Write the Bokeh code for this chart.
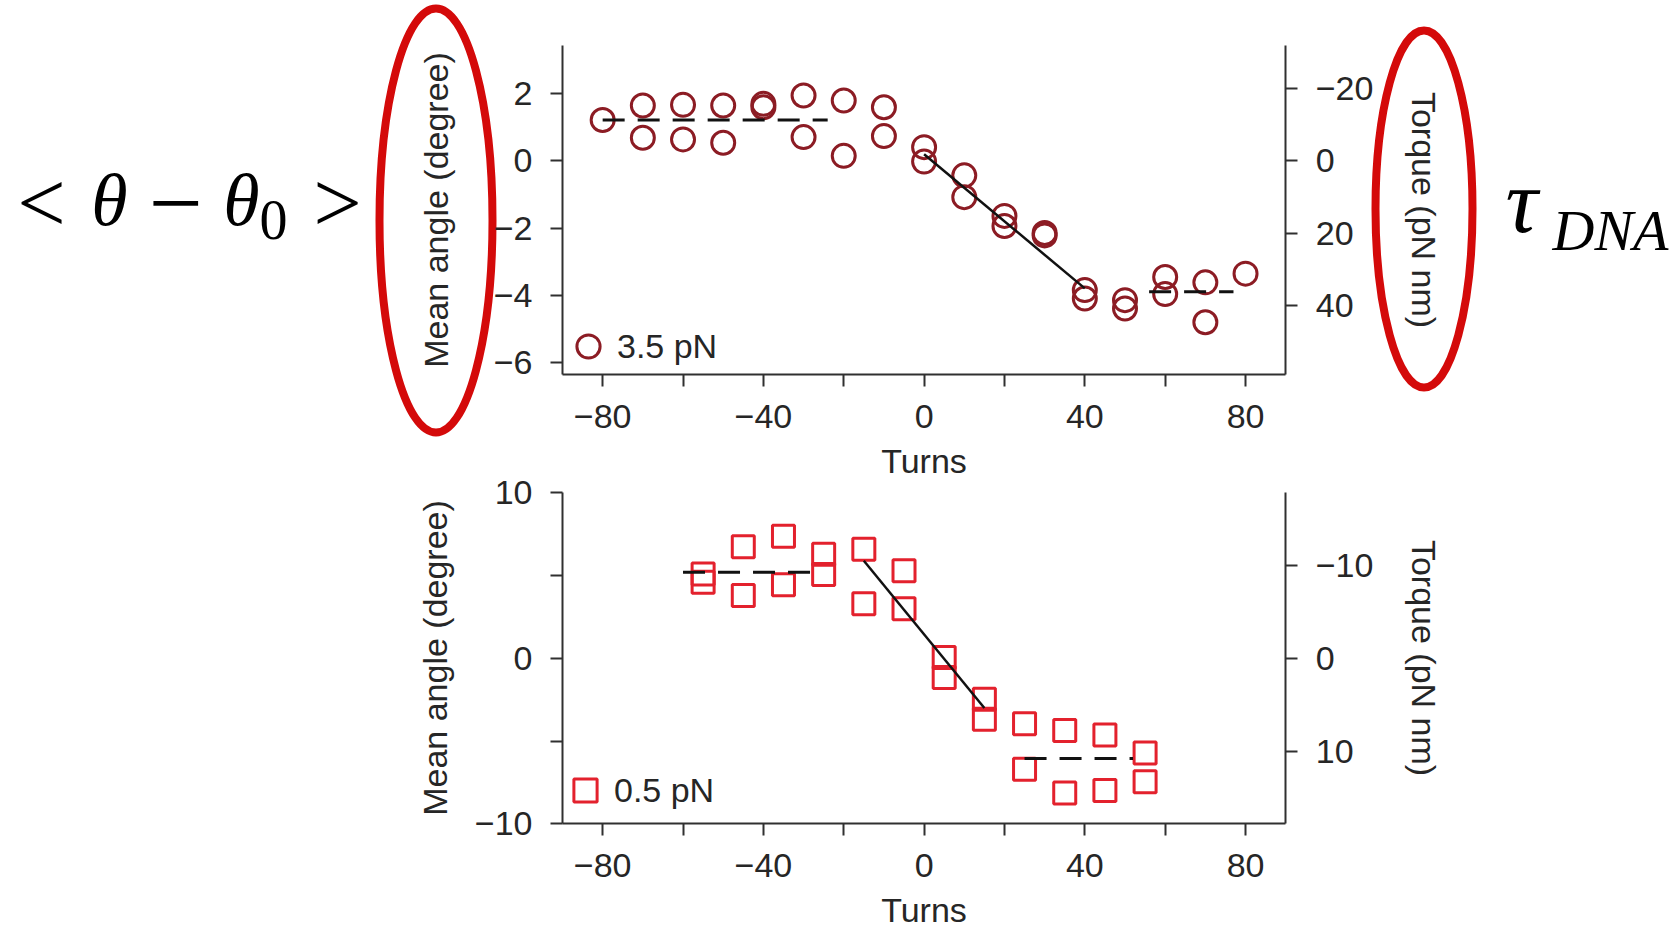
from bokeh.plotting import figure
from bokeh.models import (Range1d, LinearAxis, FixedTicker, Legend, LegendItem)
from bokeh.core.properties import value
from bokeh.embed import file_html
from bokeh.resources import INLINE

# ---------------- data ----------------
# 3.5 pN panel (circles)
top_turns = [-80, -70, -70, -60, -60, -50, -50, -40, -40, -30, -30, -20, -20,
             -10, -10, 0, 0, 10, 10, 20, 20, 30, 30, 40, 40, 50, 50, 60, 60,
             70, 70, 80]
top_angle = [1.22, 1.65, 0.69, 1.67, 0.64, 1.65, 0.54, 1.70, 1.60, 1.95, 0.71,
             1.80, 0.15, 1.60, 0.74, 0.41, -0.02, -0.43, -1.08, -1.64, -1.94,
             -2.15, -2.22, -3.85, -4.10, -4.15, -4.40, -3.46, -3.97, -3.62,
             -4.81, -3.36]
top_flat1_x = [-80, -24]
top_flat1_y = [1.22, 1.22]
top_slope_x = [0, 40]
top_slope_y = [0.2, -3.8]
top_flat2_x = [56, 77]
top_flat2_y = [-3.9, -3.9]

# 0.5 pN panel (squares)
bot_turns = [-55, -55, -45, -45, -35, -35, -25, -25, -15, -15, -5, -5,
             5, 5, 15, 15, 25, 25, 35, 35, 45, 45, 55, 55]
bot_angle = [5.10, 4.60, 6.74, 3.80, 7.38, 4.45, 6.29, 5.07, 6.60, 3.30,
             5.30, 3.00, 0.06, -1.15, -2.47, -3.68, -3.95, -6.70, -4.35,
             -8.13, -4.62, -7.98, -5.72, -7.45]
bot_flat1_x = [-60, -28]
bot_flat1_y = [5.2, 5.2]
bot_slope_x = [-15, 15]
bot_slope_y = [5.9, -3.0]
bot_flat2_x = [25, 52]
bot_flat2_y = [-6.05, -6.05]

x_ticks = [-80, -40, 0, 40, 80]
x_minor = [-60, -20, 20, 60]
top_y_ticks = [2, 0, -2, -4, -6]
top_torque_ticks = [-20, 0, 20, 40]
bot_y_ticks = [10, 0, -10]
bot_y_minor = [5, -5]
bot_torque_ticks = [-10, 0, 10]

# axis extents of each panel (data units)
X_LIM = (-90, 90)
TOP_Y_LIM = (-6.37, 3.44)
BOT_Y_LIM = (-10, 10)

# ---------------- geometry (pixels on the 1680x930 canvas) ----------------
W, H = 1680, 930
X0_PX, PX_PER_TURN = 923.6, 4.018           # turn 0 position, scale
TOP_Y0_PX, TOP_PX_PER_DEG = 160.4, 33.55     # angle 0 position, scale
TOP_PX_PER_TORQUE = 3.61
BOT_Y0_PX, BOT_PX_PER_DEG = 657.9, 16.555
BOT_PX_PER_TORQUE = 9.27

# ---------------- style ----------------
FONT = "Liberation Sans"
SERIF = "Liberation Serif"
TXT = "#262626"
AX = "#303030"
FS = "34px"
CIRCLE_C = "#8c1c24"
SQUARE_C = "#e3212d"
ELL_C = "#d40a0a"
DASH = "22 13"


def xd(px):
    return (px - X0_PX) / PX_PER_TURN


def yd_top(py):
    return (TOP_Y0_PX - py) / TOP_PX_PER_DEG


def yd_bot(py):
    return (BOT_Y0_PX - py) / BOT_PX_PER_DEG


K_TOP = TOP_PX_PER_DEG / TOP_PX_PER_TORQUE
K_BOT = BOT_PX_PER_DEG / BOT_PX_PER_TORQUE


def mlabels(ticks):
    return {t: str(t).replace("-", "\u2212") for t in ticks}


def style_axis(ax, label_standoff, axis_label_standoff):
    ax.axis_line_color = AX
    ax.axis_line_width = 2
    ax.major_tick_line_color = AX
    ax.major_tick_line_width = 2
    ax.minor_tick_line_color = AX
    ax.minor_tick_line_width = 2
    ax.major_tick_in = 0
    ax.major_tick_out = 12
    ax.minor_tick_in = 0
    ax.minor_tick_out = 12
    ax.major_label_text_font = FONT
    ax.major_label_text_font_size = FS
    ax.major_label_text_color = TXT
    ax.major_label_standoff = label_standoff
    ax.axis_label_text_font = FONT
    ax.axis_label_text_font_size = FS
    ax.axis_label_text_font_style = "normal"
    ax.axis_label_text_color = TXT
    ax.axis_label_standoff = axis_label_standoff


p = figure(width=W, height=H, x_range=Range1d(xd(0), xd(W)),
           y_range=Range1d(yd_top(H), yd_top(0)),
           output_backend="svg", toolbar_location=None,
           min_border=0, min_border_left=0, min_border_right=0,
           min_border_top=0, min_border_bottom=0)
p.outline_line_color = None
p.grid.visible = False
p.background_fill_color = "white"
p.border_fill_color = "white"
p.extra_y_ranges = {
    "top_torque": Range1d(start=-K_TOP * yd_top(H), end=-K_TOP * yd_top(0)),
    "bot_angle": Range1d(start=yd_bot(H), end=yd_bot(0)),
    "bot_torque": Range1d(start=-K_BOT * yd_bot(H), end=-K_BOT * yd_bot(0)),
}

# ---- top panel axes ----
xa = p.xaxis[0]
xa.fixed_location = TOP_Y_LIM[0]
xa.bounds = X_LIM
xa.ticker = FixedTicker(ticks=x_ticks, minor_ticks=x_minor)
xa.major_label_overrides = mlabels(x_ticks)
xa.axis_label = "Turns"
style_axis(xa, 18, 11)

ya = p.yaxis[0]
ya.fixed_location = X_LIM[0]
ya.bounds = TOP_Y_LIM
ya.ticker = FixedTicker(ticks=top_y_ticks, minor_ticks=[])
ya.major_label_overrides = mlabels(top_y_ticks)
ya.axis_label = "Mean angle (degree)"
style_axis(ya, 18, 36)

ra = LinearAxis(y_range_name="top_torque", axis_label="Torque (pN nm)")
ra.fixed_location = X_LIM[1]
ra.bounds = (-K_TOP * TOP_Y_LIM[1], -K_TOP * TOP_Y_LIM[0])
ra.ticker = FixedTicker(ticks=top_torque_ticks, minor_ticks=[])
ra.major_label_overrides = mlabels(top_torque_ticks)
style_axis(ra, 18, 29)
p.add_layout(ra, "right")

# ---- bottom panel axes ----
bx = LinearAxis(y_range_name="bot_angle", axis_label="Turns")
bx.fixed_location = BOT_Y_LIM[0]
bx.bounds = X_LIM
bx.ticker = FixedTicker(ticks=x_ticks, minor_ticks=x_minor)
bx.major_label_overrides = mlabels(x_ticks)
style_axis(bx, 18, 11)
p.add_layout(bx, "below")

by = LinearAxis(y_range_name="bot_angle", axis_label="Mean angle (degree)")
by.fixed_location = X_LIM[0]
by.bounds = BOT_Y_LIM
by.ticker = FixedTicker(ticks=bot_y_ticks, minor_ticks=bot_y_minor)
by.major_label_overrides = mlabels(bot_y_ticks)
style_axis(by, 18, 18)
p.add_layout(by, "left")

rb = LinearAxis(y_range_name="bot_torque", axis_label="Torque (pN nm)")
rb.fixed_location = X_LIM[1]
rb.bounds = (-K_BOT * BOT_Y_LIM[1], -K_BOT * BOT_Y_LIM[0])
rb.ticker = FixedTicker(ticks=bot_torque_ticks, minor_ticks=[])
rb.major_label_overrides = mlabels(bot_torque_ticks)
style_axis(rb, 18, 29)
p.add_layout(rb, "right")

# ---- top panel data (3.5 pN) ----
r_top = p.scatter(top_turns, top_angle, marker="circle", size=23,
                  fill_color=None, line_color=CIRCLE_C, line_width=3)
p.line(top_flat1_x, top_flat1_y, line_color="#111111", line_width=3,
       line_dash=DASH)
p.line(top_slope_x, top_slope_y, line_color="#111111", line_width=2.5)
p.line(top_flat2_x, top_flat2_y, line_color="#111111", line_width=3,
       line_dash=DASH)

# ---- bottom panel data (0.5 pN) ----
r_bot = p.scatter(bot_turns, bot_angle, marker="square", size=22,
                  fill_color=None, line_color=SQUARE_C, line_width=3,
                  y_range_name="bot_angle")
p.line(bot_flat1_x, bot_flat1_y, line_color="#111111", line_width=3,
       line_dash=DASH, y_range_name="bot_angle")
p.line(bot_slope_x, bot_slope_y, line_color="#111111", line_width=2.5,
       y_range_name="bot_angle")
p.line(bot_flat2_x, bot_flat2_y, line_color="#111111", line_width=3,
       line_dash=DASH, y_range_name="bot_angle")

# ---- legends ----
leg_kw = dict(border_line_color=None, background_fill_alpha=0, padding=0,
              margin=0, glyph_width=58, glyph_height=58,
              label_text_font=FONT, label_text_font_size=FS,
              label_text_color=TXT)
p.add_layout(Legend(items=[LegendItem(label="3.5 pN", renderers=[r_top])],
                    location=(559, 555), label_standoff=-2, **leg_kw))
p.add_layout(Legend(items=[LegendItem(label="0.5 pN", renderers=[r_bot])],
                    location=(556, 111), label_standoff=-14, **leg_kw))


# ---- math annotations ----
def math_text(px, py, text, size, italic=False, align="center"):
    p.text(x=[xd(px)], y=[yd_top(py)], text=[text], text_font=value(SERIF),
           text_font_size=value(size),
           text_font_style="italic" if italic else "normal",
           text_align=align, text_baseline="middle", text_color="black")


# < theta - theta_0 >
math_text(41, 202, "<", "86px")
math_text(109, 199, "\u03b8", "74px", italic=True)
math_text(175, 203, "\u2212", "96px")
math_text(241, 199, "\u03b8", "74px", italic=True)
math_text(273, 219, "0", "56px")
math_text(337, 202, ">", "86px")
# tau_DNA
math_text(1505, 201, "\u03c4", "90px", italic=True, align="left")
math_text(1552, 230, "DNA", "58px", italic=True, align="left")

# red ellipses around the axis titles
p.ellipse(x=[xd(435.5), xd(1423.5)], y=[yd_top(220), yd_top(208.5)],
          width=[113, 97], height=[424, 357], width_units="screen",
          height_units="screen", fill_color=None, line_color=ELL_C,
          line_width=8)

open("out.html", "w").write(file_html(p, INLINE))
